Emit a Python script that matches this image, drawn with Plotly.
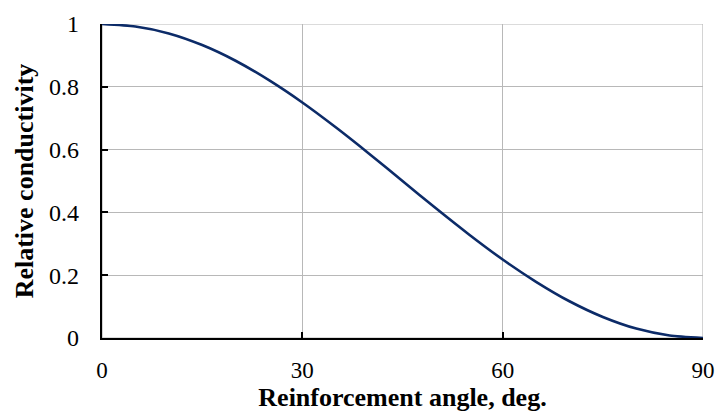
import plotly.graph_objects as go

# Reinforcement angle (deg) and relative conductivity
angle_deg = [0, 5, 10, 15, 20, 25, 30, 35, 40, 45, 50, 55, 60, 65, 70, 75, 80, 85, 90]
rel_conductivity = [1.0, 0.992, 0.970, 0.933, 0.883, 0.821, 0.750, 0.671, 0.587, 0.500,
                    0.413, 0.329, 0.250, 0.179, 0.117, 0.067, 0.030, 0.008, 0.0]

x_ticks = [0, 30, 60, 90]
y_ticks = [0, 0.2, 0.4, 0.6, 0.8, 1]
y_tick_text = ["0", "0.2", "0.4", "0.6", "0.8", "1"]

FONT = "Liberation Serif, Times New Roman, serif"

fig = go.Figure()
fig.add_trace(go.Scatter(
    x=angle_deg, y=rel_conductivity, mode="lines",
    line=dict(color="#0c2b68", width=2.6, shape="spline", smoothing=0.6),
    showlegend=False, hoverinfo="skip", cliponaxis=False,
))

# light frame on the top and right sides of the plot area
fig.add_shape(type="rect", xref="x", yref="y", x0=0, x1=90, y0=0, y1=1,
              line=dict(color="#b8b8b8", width=1.2), layer="below")

fig.update_layout(
    width=718, height=412,
    margin=dict(l=102, r=15, t=24, b=74),
    paper_bgcolor="white", plot_bgcolor="white",
    font=dict(family=FONT, color="black"),
)
fig.update_xaxes(
    range=[0, 90], tickvals=x_ticks, ticks="inside", ticklen=6, tickwidth=2,
    tickcolor="black", showline=True, linecolor="black", linewidth=2.2,
    showgrid=True, gridcolor="#b8b8b8", gridwidth=1.2, zeroline=False,
    automargin=False,
    tickfont=dict(family=FONT, size=23), ticklabelstandoff=10,
    title=dict(text="<b>Reinforcement angle, deg.</b>",
               font=dict(family=FONT, size=26), standoff=4),
)
fig.update_yaxes(
    range=[0, 1], tickvals=y_ticks, ticktext=y_tick_text, ticks="inside",
    ticklen=6, tickwidth=2, tickcolor="black", showline=True,
    linecolor="black", linewidth=2.2, showgrid=True, gridcolor="#b8b8b8",
    gridwidth=1.2, zeroline=False, automargin=False,
    tickfont=dict(family=FONT, size=24), ticklabelstandoff=16,
    title=dict(text="<b>Relative conductivity</b>",
               font=dict(family=FONT, size=26), standoff=8),
)

fig.write_html("out.html")
